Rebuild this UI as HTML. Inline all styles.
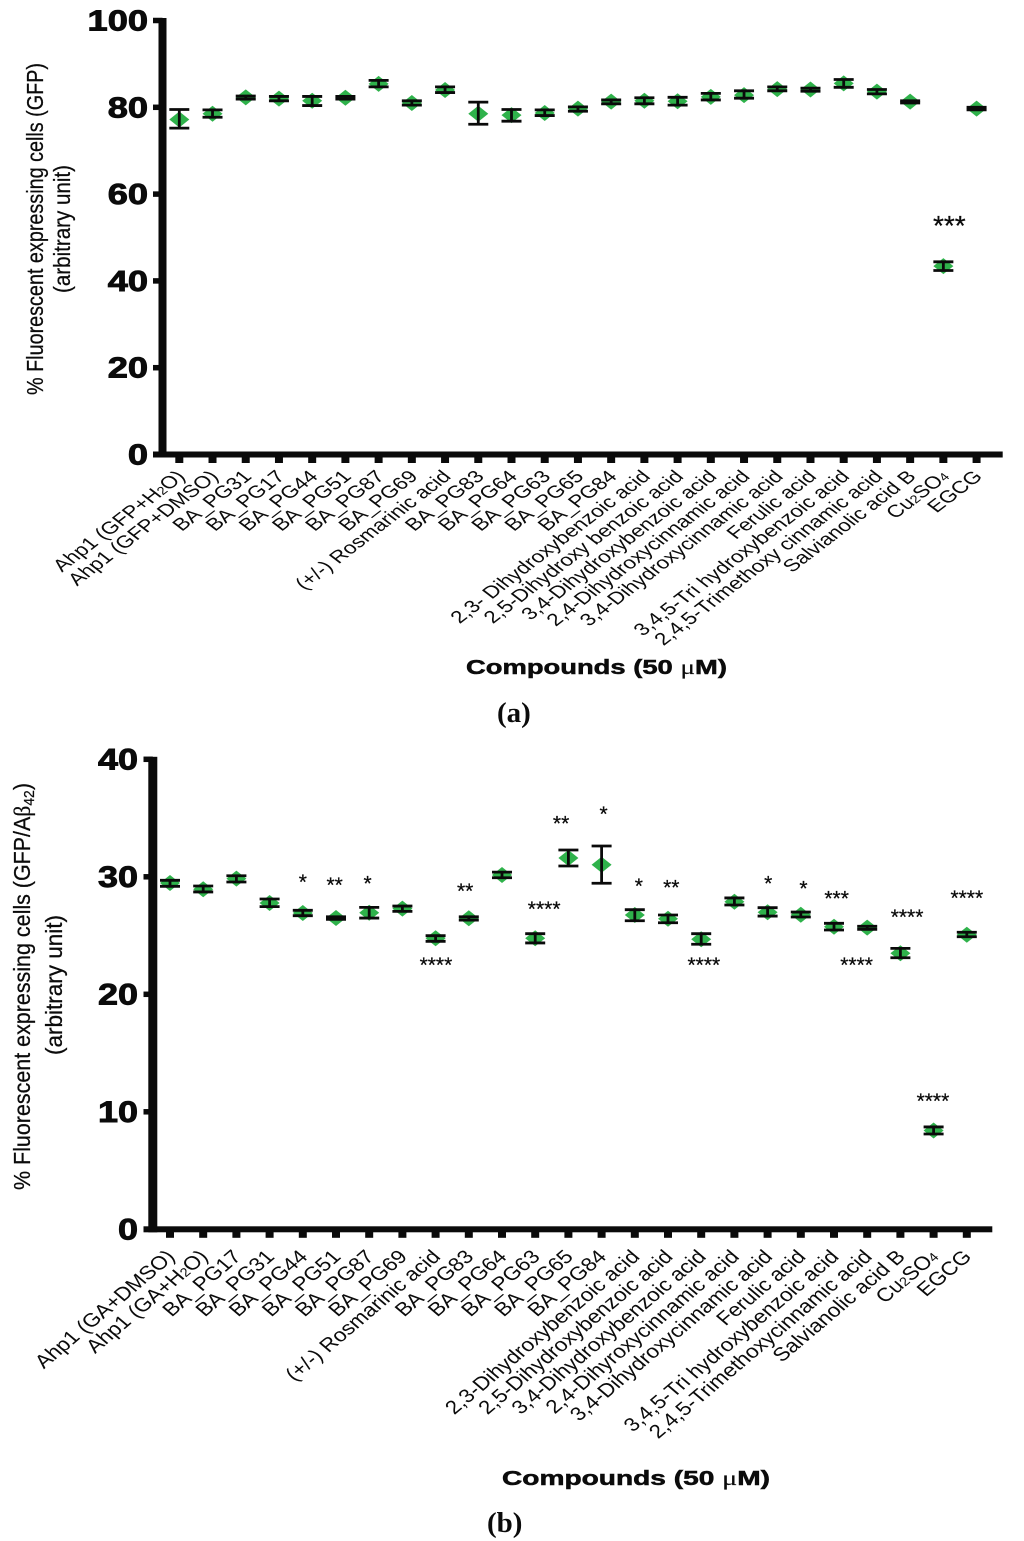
<!DOCTYPE html>
<html lang="en">
<head>
<meta charset="utf-8">
<title>Fluorescent expressing cells charts</title>
<style>
html,body{margin:0;padding:0;background:#fff;}
svg{display:block;}
text{fill:#0b0b0b;font-family:"Liberation Sans",sans-serif;}
</style>
</head>
<body>
<svg id="figure" xmlns="http://www.w3.org/2000/svg" width="1024" height="1541" viewBox="0 0 1024 1541">
  <rect x="0" y="0" width="1024" height="1541" fill="#ffffff"/>
  <g id="chart-a"></g>
  <g id="chart-b"></g>

  <text transform="translate(43,395) rotate(-90)" font-size="23" stroke="#0b0b0b" stroke-width="0.25" textLength="332" lengthAdjust="spacingAndGlyphs">% Fluorescent expressing cells (GFP)</text>
  <text transform="translate(70,293) rotate(-90)" font-size="23" stroke="#0b0b0b" stroke-width="0.25" textLength="128" lengthAdjust="spacingAndGlyphs">(arbitrary unit)</text>
  <text x="466" y="674" font-size="20" font-weight="700" stroke="#0b0b0b" stroke-width="0.5" textLength="261" lengthAdjust="spacingAndGlyphs">Compounds (50 <tspan font-family="'Liberation Serif',serif" font-weight="400" stroke-width="0.2">μ</tspan>M)</text>
  <text x="497" y="722" font-size="29" font-weight="700" style="font-family:'Liberation Serif',serif">(a)</text>

  <text transform="translate(30,1190) rotate(-90)" font-size="23" stroke="#0b0b0b" stroke-width="0.25" textLength="407" lengthAdjust="spacingAndGlyphs">% Fluorescent expressing cells (GFP/A<tspan font-family="'Liberation Serif',serif">β</tspan><tspan font-size="15" dy="4">42</tspan><tspan dy="-4">)</tspan></text>
  <text transform="translate(62,1055) rotate(-90)" font-size="23" stroke="#0b0b0b" stroke-width="0.25" textLength="140" lengthAdjust="spacingAndGlyphs">(arbitrary unit)</text>
  <text x="502" y="1485" font-size="20" font-weight="700" stroke="#0b0b0b" stroke-width="0.5" textLength="268" lengthAdjust="spacingAndGlyphs">Compounds (50 <tspan font-family="'Liberation Serif',serif" font-weight="400" stroke-width="0.2">μ</tspan>M)</text>
  <text x="487" y="1532" font-size="29" font-weight="700" style="font-family:'Liberation Serif',serif">(b)</text>
</svg>

<script>
const categoriesA = ["Ahp1 (GFP+H~2~O)","Ahp1 (GFP+DMSO)","BA_PG31","BA_PG17","BA_PG44","BA_PG51","BA_PG87","BA_PG69","(+/-) Rosmarinic acid","BA_PG83","BA_PG64","BA_PG63","BA_PG65","BA_PG84","2,3- Dihydroxybenzoic acid","2,5-Dihydroxy benzoic acid","3,4-Dihydroxybenzoic acid","2,4-Dihydroxycinnamic acid","3,4-Dihydroxycinnamic acid","Ferulic acid","3,4,5-Tri hydroxybenzoic acid","2,4,5-Trimethoxy cinnamic acid","Salvianolic acid B","Cu~2~SO~4~","EGCG"];
const meansA = [77.2,78.5,82.3,82.0,81.5,82.2,85.4,81.0,84.0,78.5,78.2,78.7,79.7,81.3,81.5,81.4,82.4,82.8,84.2,84.1,85.5,83.6,81.3,43.4,79.7];
const upperA = [79.5,79.4,82.6,82.5,82.5,82.5,86.2,81.5,84.7,81.2,79.5,79.4,80.1,81.7,82.2,82.3,83.2,83.8,84.7,84.4,86.4,84.1,81.5,44.4,80.0];
const lowerA = [75.2,77.7,81.9,81.5,80.4,81.9,84.7,80.5,83.4,76.1,76.8,78.1,79.1,80.8,80.8,80.5,81.7,82.1,83.8,83.7,84.6,83.1,81.0,42.4,79.4];
const yTicksA = [0,20,40,60,80,100];
const starTextA = ["***"];
const starCatsA = [23.18];
const starLevelsA = [53.64];

const categoriesB = ["Ahp1 (GA+DMSO)","Ahp1 (GA+H~2~O)","BA_PG17","BA_PG31","BA_PG44","BA_PG51","BA_PG87","BA_PG69","(+/-) Rosmarinic acid","BA_PG83","BA_PG64","BA_PG63","BA_PG65","BA_PG84","2,3-Dihydroxybenzoic acid","2,5-Dihydroxybenzoic acid","3,4-Dihydroxybenzoic acid","2,4-Dihyroxycinnamic acid","3,4-Dihydroxycinnamic acid","Ferulic acid","3,4,5-Tri hydroxybenzoic acid","2,4,5-Trimethoxycinnamic acid","Salvianolic acid B","Cu~2~SO~4~","EGCG"];
const meansB = [29.47,28.94,29.84,27.77,26.92,26.49,26.94,27.29,24.77,26.47,30.15,24.77,31.60,31.03,26.75,26.43,24.68,27.88,26.98,26.77,25.75,25.67,23.49,8.41,25.07];
const upperB = [29.70,29.22,30.09,28.11,27.15,26.60,27.40,27.51,24.99,26.60,30.40,25.16,32.28,32.62,27.20,26.75,25.16,28.20,27.37,27.00,26.04,25.79,23.91,8.71,25.28];
const lowerB = [29.19,28.71,29.56,27.46,26.69,26.38,26.49,27.06,24.51,26.32,29.92,24.37,30.92,29.45,26.26,26.09,24.26,27.60,26.66,26.58,25.47,25.53,23.11,8.11,24.90];
const yTicksB = [0,10,20,30,40];
const starTextB = ["*","**","*","****","**","****","**","*","*","**","****","*","*","***","****","****","****","****"];
const starCatsB = [4.0,4.96,5.95,8.01,8.89,11.27,11.78,13.06,14.12,15.1,16.08,18.02,19.08,20.08,20.68,22.2,22.98,24.0];
const starLevelsB = [29.8,29.56,29.67,22.72,29.02,27.51,34.77,35.6,29.45,29.33,22.72,29.67,29.24,28.39,22.72,26.83,11.17,28.45];

const SVG_NS = "http://www.w3.org/2000/svg";

function make(tag, parent) {
  const el = document.createElementNS(SVG_NS, tag);
  parent.appendChild(el);
  return el;
}

function drawChart(root, o) {
  const xOf = i => o.x0 + o.dx * i;
  const yOf = v => o.y0 - v * o.pxPerUnit;

  // y axis line
  const yAxis = make("rect", root);
  
  
  yAxis.setAttribute("x", o.axisX - o.axisW / 2);
  yAxis.setAttribute("y", yOf(o.yMax) - 2.5);
  yAxis.setAttribute("width", o.axisW);
  yAxis.setAttribute("height", o.y0 - yOf(o.yMax) + 5.5);
  yAxis.setAttribute("fill", "#0a0a0a");

  // x axis line
  const xAxis = make("rect", root);
  
  
  xAxis.setAttribute("x", o.tickLeft);
  xAxis.setAttribute("y", o.y0 - 3);
  xAxis.setAttribute("width", o.axisEnd - o.tickLeft);
  xAxis.setAttribute("height", 6);
  xAxis.setAttribute("fill", "#0a0a0a");

  // y ticks + labels
  o.yTicks.forEach(t => {
    const tick = make("rect", root);
    
    
    tick.setAttribute("x", o.tickLeft);
    tick.setAttribute("y", yOf(t) - 2.75);
    tick.setAttribute("width", o.axisX - o.tickLeft);
    tick.setAttribute("height", 5.5);
    tick.setAttribute("fill", "#0a0a0a");

    const label = make("text", root);
    
    
    label.setAttribute("transform", "translate(" + o.yLabelRight + "," + (yOf(t) + 10) + ") scale(" + o.yLabelScale + ",1)");
    label.setAttribute("text-anchor", "end");
    label.setAttribute("font-size", o.yLabelSize);
    label.setAttribute("font-weight", "700");
    label.setAttribute("stroke", "#0b0b0b");
    label.setAttribute("stroke-width", "0.9");
    label.textContent = t;
  });

  // x ticks + labels
  o.categories.forEach((name, i) => {
    const tick = make("rect", root);
    
    
    tick.setAttribute("x", xOf(i) - 4);
    tick.setAttribute("y", o.y0);
    tick.setAttribute("width", 8);
    tick.setAttribute("height", 8.5);
    tick.setAttribute("fill", "#0a0a0a");

    const label = make("text", root);
    
    
    label.setAttribute("transform", "translate(" + (xOf(i) + o.labelShift) + "," + (o.y0 + o.labelDrop) + ") scale(" + o.labelScaleX + "," + o.labelScaleY + ") rotate(-45)");
    label.setAttribute("text-anchor", "end");
    label.setAttribute("font-size", "20");
    name.split("~").forEach((part, k) => {
      if (!part) return;
      const span = make("tspan", label);
      span.textContent = part;
      if (k % 2 === 1) {
        span.setAttribute("font-size", "13");
      }
    });
  });

  // points
  o.means.forEach((m, i) => {
    const group = make("g", root);
    
    
    const cx = xOf(i), cy = yOf(m);

    const diamond = make("polygon", group);
    
    
    diamond.setAttribute("points", (cx - 10) + "," + cy + " " + cx + "," + (cy - 8) + " " + (cx + 10) + "," + cy + " " + cx + "," + (cy + 8));
    diamond.setAttribute("fill", "#2fb24b");

    const yHi = yOf(o.upper[i]), yLo = yOf(o.lower[i]);

    const stem = make("line", group);
    
    
    stem.setAttribute("x1", cx);
    stem.setAttribute("x2", cx);
    stem.setAttribute("y1", yHi);
    stem.setAttribute("y2", yLo);
    stem.setAttribute("stroke", "#0a0a0a");
    stem.setAttribute("stroke-width", "2.8");

    const capTop = make("line", group);
    
    
    capTop.setAttribute("x1", cx - 10);
    capTop.setAttribute("x2", cx + 10);
    capTop.setAttribute("y1", yHi);
    capTop.setAttribute("y2", yHi);
    capTop.setAttribute("stroke", "#0a0a0a");
    capTop.setAttribute("stroke-width", "2.8");

    const capBottom = make("line", group);
    
    
    capBottom.setAttribute("x1", cx - 10);
    capBottom.setAttribute("x2", cx + 10);
    capBottom.setAttribute("y1", yLo);
    capBottom.setAttribute("y2", yLo);
    capBottom.setAttribute("stroke", "#0a0a0a");
    capBottom.setAttribute("stroke-width", "2.8");
  });

  // significance stars
  o.starText.forEach((s, i) => {
    const star = make("text", root);
    
    
    star.setAttribute("x", xOf(o.starCats[i]));
    star.setAttribute("y", yOf(o.starLevels[i]) + o.starSize * 0.47);
    star.setAttribute("text-anchor", "middle");
    star.setAttribute("font-size", o.starSize);
    star.setAttribute("stroke", "#0b0b0b");
    star.setAttribute("stroke-width", "0.25");
    star.textContent = s;
  });
}

drawChart(document.getElementById("chart-a"), {
  categories: categoriesA, means: meansA, upper: upperA, lower: lowerA,
  yTicks: yTicksA, yMax: 100,
  starText: starTextA, starCats: starCatsA, starLevels: starLevelsA, starSize: 28,
  x0: 179.3, dx: 33.22, y0: 454.5, pxPerUnit: 4.34,
  axisX: 162.5, axisW: 8, tickLeft: 153, axisEnd: 1002.7,
  yLabelRight: 148, yLabelScale: 1.25, yLabelSize: 29,
  labelShift: 7, labelDrop: 23, labelScaleX: 1.13, labelScaleY: 0.865
});

drawChart(document.getElementById("chart-b"), {
  categories: categoriesB, means: meansB, upper: upperB, lower: lowerB,
  yTicks: yTicksB, yMax: 40,
  starText: starTextB, starCats: starCatsB, starLevels: starLevelsB, starSize: 21,
  x0: 170, dx: 33.2, y0: 1229.3, pxPerUnit: 11.75,
  axisX: 152.8, axisW: 9, tickLeft: 143.5, axisEnd: 992.3,
  yLabelRight: 138, yLabelScale: 1.2, yLabelSize: 30,
  labelShift: 6, labelDrop: 28.5, labelScaleX: 1.125, labelScaleY: 0.95
});
</script>
</body>
</html>
